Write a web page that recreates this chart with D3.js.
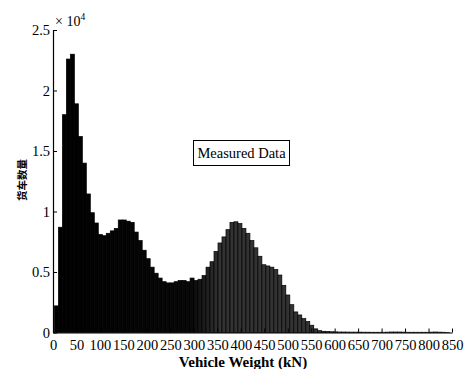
<!DOCTYPE html>
<html>
<head>
<meta charset="utf-8">
<script src="https://cdn.jsdelivr.net/npm/d3@7"></script>
<style>
  body { margin: 0; background: #fff; }
  svg { display: block; }
</style>
</head>
<body>
<svg id="chart" width="466" height="369"></svg>
<script>
// histogram of vehicle weights, bins of 8.5 kN, first bin starts at 3 kN
const binStart = 3;
const binWidth = 8.5;
const counts = [
  2200, 8700, 18000, 22600, 23000, 18900, 16200, 14000, 11450, 9900,
  9050, 8100, 8000, 8200, 8400, 8600, 9300, 9300, 9200, 9100,
  8300, 7600, 6800, 6100, 5400, 4900, 4500, 4200, 4100, 4100,
  4200, 4300, 4300, 4200, 4500, 4300, 4400, 4700, 5400, 5850,
  6700, 7400, 7900, 8500, 9100, 9150, 9000, 8600, 8200, 7600,
  7000, 6300, 5600, 5500, 5400, 5200, 4750, 3900, 3100, 2300,
  1700, 1450, 1150, 900, 600, 300, 150, 100, 80, 60,
  50, 40, 40, 35, 30, 30, 30, 25, 25, 20,
  20, 20, 20, 30, 40, 40, 40, 30, 20, 20,
  20, 20, 20, 20, 30, 40, 30, 20, 10
];
const xTicks = [0, 50, 100, 150, 200, 250, 300, 350, 400, 450, 500, 550, 600, 650, 700, 750, 800, 850];
const yTicks = [0, 5000, 10000, 15000, 20000, 25000];
const yTickLabels = ["0", "0.5", "1", "1.5", "2", "2.5"];
const legendLabel = "Measured Data";
const xLabel = "Vehicle Weight (kN)";
const yLabel = "货车数量";

const serif = "'Liberation Serif', 'Times New Roman', serif";

const svg = d3.select("#chart");

const x = d3.scaleLinear().domain([0, 850]).range([53, 452]);
const y = d3.scaleLinear().domain([0, 25000]).range([332.5, 30]);

// solid black on the left, stippled grey look on the right hump
const shade = d3.scaleLinear()
  .domain([0, 290, 350, 850])
  .range(["#000", "#080808", "#333", "#333"]);

const bins = counts.map((c, i) => ({
  x0: binStart + i * binWidth,
  x1: binStart + (i + 1) * binWidth,
  n: c
}));

svg.append("g")
  .selectAll("rect")
  .data(bins)
  .join("rect")
    .attr("x", d => x(d.x0))
    .attr("y", d => y(d.n))
    .attr("width", d => x(d.x1) - x(d.x0))
    .attr("height", d => y(0) - y(d.n))
    .attr("fill", d => shade(d.x0))
    .attr("stroke", "#000")
    .attr("stroke-width", 0.7);

// x axis
const xAxis = svg.append("g")
  .attr("transform", `translate(0,${y(0)})`)
  .call(d3.axisBottom(x).tickValues(xTicks).tickFormat(d3.format("d"))
    .tickSizeInner(-4).tickSizeOuter(0).tickPadding(7));

// y axis
const yAxis = svg.append("g")
  .attr("transform", `translate(${x(0)},0)`)
  .call(d3.axisLeft(y).tickValues(yTicks).tickFormat((d, i) => yTickLabels[i])
    .tickSizeInner(-4).tickSizeOuter(0).tickPadding(3));

[xAxis, yAxis].forEach(g => {
  g.select(".domain").attr("stroke", "#000").attr("stroke-width", 1.2);
  g.selectAll(".tick line").attr("stroke", "#000").attr("stroke-width", 1);
  g.selectAll(".tick text")
    .attr("fill", "#000")
    .style("font-family", serif)
    .style("font-size", "14.5px");
});

// exponent label
const expo = svg.append("text")
  .attr("x", 55).attr("y", 26)
  .style("font-family", serif).style("font-size", "14px");
expo.append("tspan").text("× 10");
expo.append("tspan").attr("dy", -6).style("font-size", "9.5px").text("4");

// legend box
svg.append("rect")
  .attr("x", 193.5).attr("y", 140.5)
  .attr("width", 96).attr("height", 25)
  .attr("fill", "#fff").attr("stroke", "#000").attr("stroke-width", 1);
svg.append("text")
  .attr("x", 241.5).attr("y", 158)
  .attr("text-anchor", "middle")
  .style("font-family", serif).style("font-size", "14.5px")
  .text(legendLabel);

// axis titles
svg.append("text")
  .attr("x", 243).attr("y", 367)
  .attr("text-anchor", "middle")
  .style("font-family", serif).style("font-size", "15px").style("font-weight", "bold")
  .text(xLabel);

svg.append("text")
  .attr("transform", "translate(26,180) rotate(-90)")
  .attr("text-anchor", "middle")
  .style("font-family", "'Noto Sans CJK SC', sans-serif").style("font-size", "10.5px").style("font-weight", "bold")
  .text(yLabel);
</script>
</body>
</html>
